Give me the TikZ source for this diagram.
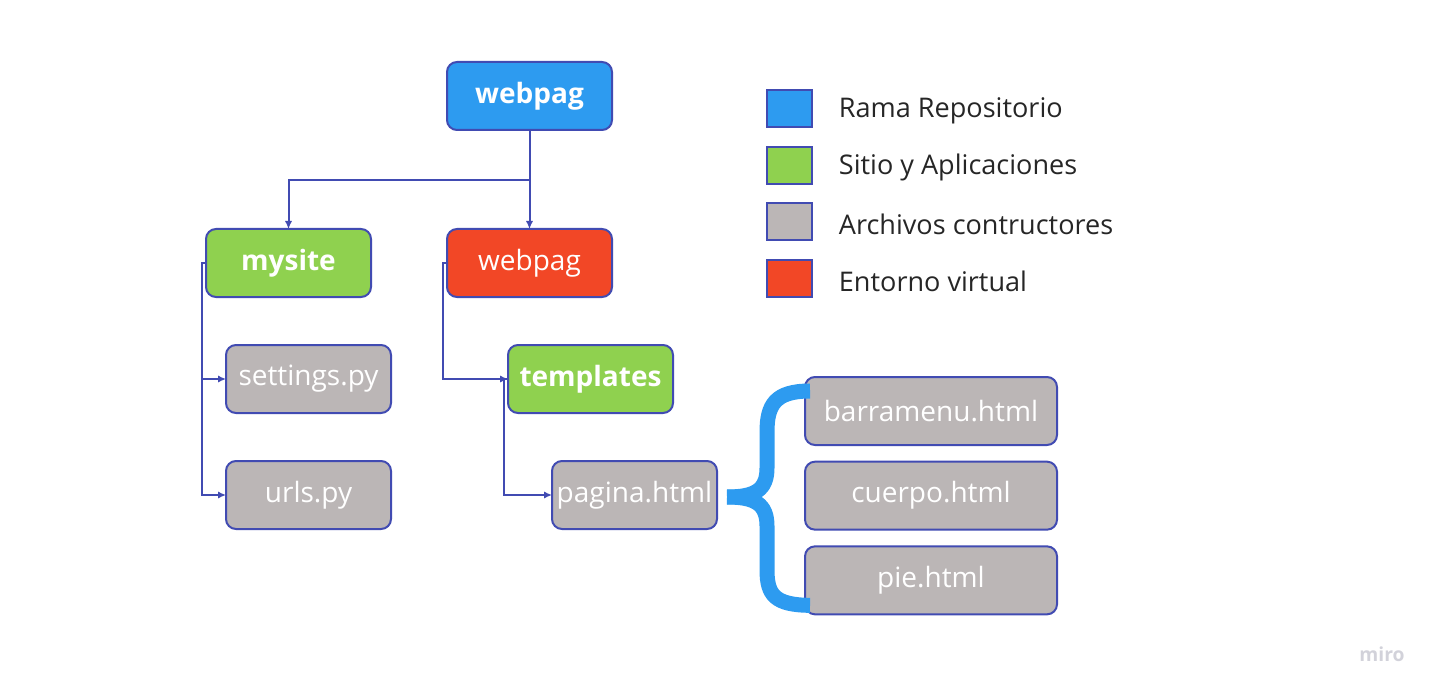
\documentclass[tikz,border=0pt]{standalone}
\usepackage{fontspec}
\setmainfont{Open Sans}
\usetikzlibrary{arrows.meta,positioning,calc}
\definecolor{repoblue}{HTML}{2D9BF0}
\definecolor{sitegreen}{HTML}{8FD14F}
\definecolor{venvred}{HTML}{F24726}
\definecolor{filegray}{RGB}{187,182,182}
\definecolor{edgeblue}{HTML}{414BB2}
\definecolor{mirogray}{HTML}{D2D2DA}
\tikzset{
    box/.style = {draw=edgeblue, line width=1.5pt, rounded corners=7.5pt,
        minimum height=51pt, minimum width=123.75pt, align=center, outer sep=0pt,
        inner sep=0pt, text=white, font=\fontsize{21}{25}\selectfont},
    repo/.style = {box, fill=repoblue, font=\fontsize{21}{25}\selectfont\bfseries},
    site/.style = {box, fill=sitegreen, font=\fontsize{21}{25}\selectfont\bfseries},
    venv/.style = {box, fill=venvred},
    file/.style = {box, fill=filegray},
    wide/.style = {minimum width=189pt},
    key/.style = {draw=edgeblue, line width=1.5pt, minimum width=33.75pt,
        minimum height=27.75pt, inner sep=0pt, outer sep=0pt},
    keytext/.style = {inner sep=0pt, yshift=-2pt, text=black!85,
        font=\fontsize{20.3}{24}\selectfont},
    link/.style = {draw=edgeblue, line width=1.5pt, ->},
    brace/.style = {draw=repoblue, line width=11.25pt}
}

\begin{document}
\begin{tikzpicture}[x=0.75pt, y=-0.75pt, >={Latex[length=6pt,width=5.5pt]}]
    \useasboundingbox (0,0) rectangle (1438,695);
    % tree
    \node [repo] (root) at (529.5,96) {webpag};
    \node [site] (mysite) at (288.5,263) {mysite};
    \node [venv] (venv) at (529.5,263) {webpag};
    \node [file, below right=36pt and -108.75pt of mysite] (settings) {settings.py};
    \node [file, below=36pt of settings] (urls) {urls.py};
    \node [site, below right=36pt and -78pt of venv] (templates) {templates};
    \node [file, below right=36pt and -90.75pt of templates] (pagina) {pagina.html};
    \draw [link] (root.south) -- ++(0,50) coordinate (fork) -| (mysite.north);
    \draw [link] (fork) -- (venv.north);
    \foreach \f in {settings,urls}{
        \draw [link] (mysite.west) -- ++(-4,0) |- (\f.west);
    }
    \draw [link] (venv.west) -- ++(-4,0) |- (templates.west);
    \draw [link] (templates.west) -- ++(-4,0) |- (pagina.west);
    % parts of pagina
    \node [file, wide] (bar) at (931,411) {barramenu.html};
    \node [file, wide, below=12.5pt of bar] (cuerpo) {cuerpo.html};
    \node [file, wide, below=12.5pt of cuerpo] (pie) {pie.html};
    \coordinate (tip) at ($(pagina.east)+(10,2)$);
    \draw [brace] (tip) .. controls ++(28,0) and ++(0,22) .. (767,468)
        -- (767,432) .. controls (767,405) and (775,391) .. ($(bar.west)+(5,-20)$);
    \draw [brace] (tip) .. controls ++(28,0) and ++(0,-22) .. (767,526)
        -- (767,570) .. controls (767,595) and (775,605) .. ($(pie.west)+(5,25)$);
    % legend
    \foreach \c/\t [count=\i] in {repoblue/Rama Repositorio, sitegreen/Sitio y Aplicaciones,
        filegray/Archivos contructores, venvred/Entorno virtual}{
        \node [key, fill=\c] (key\i) at (789.5,{108.5+56.7*(\i-1)}) {};
        \node [keytext, right=20pt of key\i] (label\i) {\t};
    }
    \node [text=mirogray, font=\fontsize{14.5}{16}\selectfont\bfseries] (miro) at (1382,654) {miro};
\end{tikzpicture}
\end{document}
